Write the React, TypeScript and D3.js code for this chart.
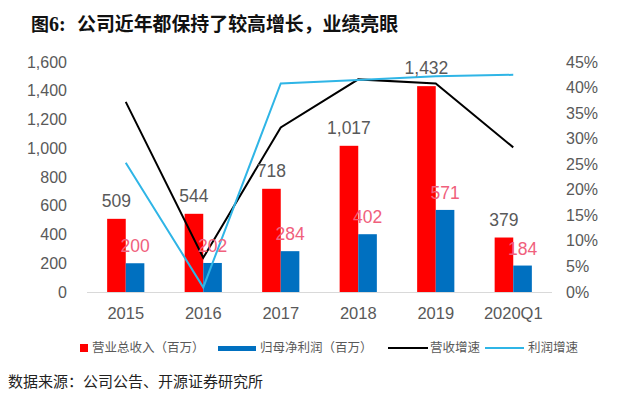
import React from "react";
import * as d3 from "d3";

const categories = ["2015", "2016", "2017", "2018", "2019", "2020Q1"];
const revenue = [509, 544, 718, 1017, 1432, 379];
const profit = [200, 202, 284, 402, 571, 184];
const revenueGrowth = [0.372, 0.067, 0.322, 0.416, 0.408, 0.283];
const profitGrowth = [0.253, 0.009, 0.408, 0.415, 0.422, 0.425];
const leftTicks = [0, 200, 400, 600, 800, 1000, 1200, 1400, 1600];
const rightTicks = [0, 0.05, 0.1, 0.15, 0.2, 0.25, 0.3, 0.35, 0.4, 0.45];

const W = 640;
const H = 398;
const cjk = '"Noto Sans CJK SC", "Liberation Sans", sans-serif';
const num = '"Liberation Sans", Arial, sans-serif';
const serif = '"Liberation Serif", "DejaVu Serif", serif';

export default function App() {
  const x = d3.scaleBand<string>().domain(categories).range([87, 552]).paddingInner(0).paddingOuter(0);
  const yL = d3.scaleLinear().domain([0, 1600]).range([292, 62]);
  const yR = d3.scaleLinear().domain([0, 0.45]).range([292, 62]);
  const bw = x.bandwidth() * 0.24;
  const cx = (c: string) => (x(c) as number) + x.bandwidth() / 2;

  const lineGen = (vals: number[]) =>
    d3.line<number>().x((_, i) => cx(categories[i])).y((v) => yR(v))(vals) as string;

  const fmtL = d3.format(",");
  const fmtR = (v: number) => `${Math.round(v * 100)}%`;

  return (
    <svg width={W} height={H} style={{ position: "absolute", left: 0, top: 0, background: "#fff" }}>
      <rect x={0} y={0} width={W} height={H} fill="#fff" />
      <text x={31} y={31} fontFamily={cjk} fontWeight="bold" fontSize={18} fill="#111">图</text>
      <text x={49} y={31} fontFamily={serif} fontWeight="bold" fontSize={20} fill="#111">6:</text>
      <text x={77} y={31} fontFamily={cjk} fontWeight="bold" fontSize={18.9} fill="#111">
        公司近年都保持了较高增长，业绩亮眼
      </text>

      {/* left axis labels */}
      {leftTicks.map((t) => (
        <text key={"l" + t} x={67} y={yL(t)} dy="0.35em" textAnchor="end" fontFamily={num} fontSize={16} fill="#595959">
          {fmtL(t)}
        </text>
      ))}
      {/* right axis labels */}
      {rightTicks.map((t) => (
        <text key={"r" + t} x={566} y={yR(t)} dy="0.35em" textAnchor="start" fontFamily={num} fontSize={16} fill="#595959">
          {fmtR(t)}
        </text>
      ))}

      {/* bars */}
      {categories.map((c, i) => (
        <g key={c}>
          <rect x={cx(c) - bw} y={yL(revenue[i])} width={bw} height={yL(0) - yL(revenue[i])} fill="#FF0000" />
          <rect x={cx(c)} y={yL(profit[i])} width={bw} height={yL(0) - yL(profit[i])} fill="#0070C0" />
        </g>
      ))}

      {/* baseline */}
      <line x1={87} x2={552} y1={292.5} y2={292.5} stroke="#D9D9D9" strokeWidth={1} />

      {/* lines */}
      <path d={lineGen(revenueGrowth)} fill="none" stroke="#000" strokeWidth={2} />
      <path d={lineGen(profitGrowth)} fill="none" stroke="#2FB5E6" strokeWidth={2} />

      {/* labels */}
      {categories.map((c, i) => (
        <g key={"lab" + c}>
          <text x={cx(c) - bw / 2} y={yL(revenue[i]) - 12} textAnchor="middle" fontFamily={num} fontSize={17.5} fill="#595959">
            {fmtL(revenue[i])}
          </text>
          <text x={cx(c) + bw / 2} y={yL(profit[i]) - 11} textAnchor="middle" fontFamily={num} fontSize={17.5} fill="#F0607C">
            {fmtL(profit[i])}
          </text>
        </g>
      ))}

      {/* x labels */}
      {categories.map((c) => (
        <text key={"x" + c} x={cx(c)} y={313} dy="0.35em" textAnchor="middle" fontFamily={num} fontSize={16.5} fill="#595959">
          {c}
        </text>
      ))}

      {/* legend */}
      <rect x={80} y={344} width={8} height={8} fill="#FF0000" />
      <text x={92} y={348} dy="0.35em" fontFamily={cjk} fontSize={12.5} fill="#595959">营业总收入（百万）</text>
      <rect x={218} y={346} width={38} height={5} fill="#0070C0" />
      <text x={260} y={348} dy="0.35em" fontFamily={cjk} fontSize={12.5} fill="#595959">归母净利润（百万）</text>
      <line x1={388} x2={428} y1={348} y2={348} stroke="#000" strokeWidth={2} />
      <text x={430} y={348} dy="0.35em" fontFamily={cjk} fontSize={12.5} fill="#595959">营收增速</text>
      <line x1={485} x2={524} y1={348} y2={348} stroke="#2FB5E6" strokeWidth={2} />
      <text x={528} y={348} dy="0.35em" fontFamily={cjk} fontSize={12.5} fill="#595959">利润增速</text>

      <text x={8} y={382} dy="0.35em" fontFamily={cjk} fontSize={15} fill="#222">
        数据来源：公司公告、开源证券研究所
      </text>
    </svg>
  );
}
